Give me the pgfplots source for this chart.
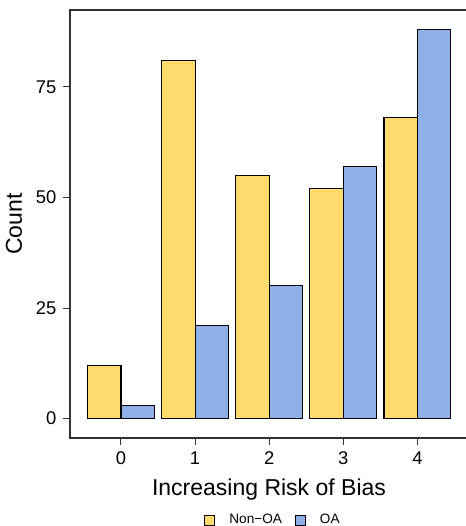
\documentclass[border=0pt]{standalone}
\usepackage{fontspec}
\setmainfont{Liberation Sans}
\usepackage{pgfplots}
\pgfplotsset{compat=1.18}
\definecolor{cy}{HTML}{FFDB6D}
\definecolor{cb}{HTML}{8DB0E6}
\definecolor{axgray}{HTML}{333333}
\begin{document}
\begin{tikzpicture}
\path[use as bounding box] (-35pt,-44pt) rectangle (198pt,219pt);
\begin{axis}[
  scale only axis, width=199pt, height=214pt,
  xmin=-0.688, xmax=4.683, ymin=-4.4, ymax=92.4,
  xtick={0,1,2,3,4}, ytick={0,25,50,75},
  tick align=outside, tick pos=left,
  major tick length=3.3pt,
  axis line style={axgray, line width=0.85pt},
  every tick/.style={axgray, line width=0.5pt},
  ticklabel style={font=\fontsize{9.2}{10}\selectfont, text=black},
  /pgf/number format/assume math mode=true,
  xlabel={Increasing Risk of Bias}, ylabel={Count},
  label style={font=\fontsize{11.5}{13}\selectfont},
  legend style={at={(rel axis cs:0.5,0)}, yshift=-41pt, xshift=2.5pt, anchor=center, draw=none, fill=none,
    font=\fontsize{6.8}{8}\selectfont,
    /tikz/every odd column/.append style={column sep=5pt},
    /tikz/every even column/.append style={column sep=4.5pt}},
  legend columns=2,
]
\addplot[ybar, bar width=0.45, bar shift=-0.225, fill=cy, draw=black, line width=0.55pt, forget plot]
  coordinates {(0,12) (1,81) (2,55) (3,52) (4,68)};
\addplot[ybar, bar width=0.45, bar shift=0.225, fill=cb, draw=black, line width=0.55pt, forget plot]
  coordinates {(0,3) (1,21) (2,30) (3,57) (4,88)};
\addlegendimage{legend image code/.code={\draw[fill=cy,draw=black,line width=0.5pt] (0pt,-2.5pt) rectangle (5pt,2.5pt);}}
\addlegendentry{Non−OA}
\addlegendimage{legend image code/.code={\draw[fill=cb,draw=black,line width=0.5pt] (0pt,-2.5pt) rectangle (5pt,2.5pt);}}
\addlegendentry{OA}
\end{axis}
\end{tikzpicture}
\end{document}
